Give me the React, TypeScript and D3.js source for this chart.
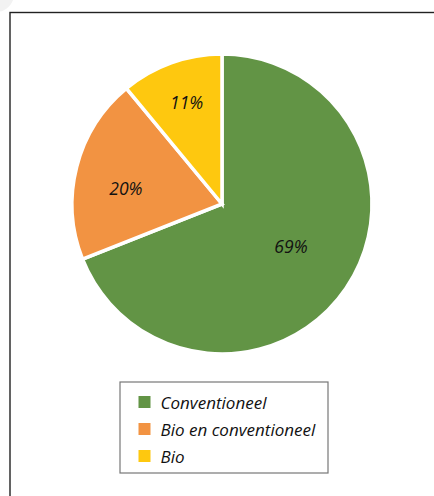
import React from "react";
import * as d3 from "d3";

const categories = ["Conventioneel", "Bio en conventioneel", "Bio"];
const values = [69, 20, 11];
const labels = ["69%", "20%", "11%"];
const colors = ["#629445", "#F29342", "#FEC80F"];

export default function App() {
  const W = 434, H = 496;
  const cx = 222, cy = 204, r = 150;
  const pie = d3.pie<number>().sort(null).value((d) => d)(values);
  const arc = d3.arc<d3.PieArcDatum<number>>().innerRadius(0).outerRadius(r);
  const labelFrac = [0.54, 0.65, 0.72];
  const labelPos: [number, number][] = pie.map((p, i) => {
    const a = (p.startAngle + p.endAngle) / 2 + [-0.045, -0.085, 0.012][i];
    return [Math.sin(a) * r * labelFrac[i], -Math.cos(a) * r * labelFrac[i]];
  });
  const font = "'Open Sans', sans-serif";
  const legendX = 120, legendY = 382, legendW = 208, legendH = 91;
  const rowY = d3.scalePoint<string>().domain(categories).range([402, 456]);
  return (
    <svg width={W} height={H} style={{ position: "absolute", left: 0, top: 0 }}>
      <rect width={W} height={H} fill="#fff" />
      <circle cx={-4} cy={-6} r={18} fill="#f2f2f2" />
      <rect x={10} y={12.5} width={W + 10} height={H + 10} fill="none" stroke="#222" strokeWidth={1.4} />
      <g transform={`translate(${cx},${cy})`}>
        {pie.map((p, i) => (
          <path key={i} d={arc(p) || ""} fill={colors[i]} stroke="#fff" strokeWidth={3.5} strokeLinejoin="miter" />
        ))}
        {pie.map((p, i) => (
          <text key={"l" + i} x={labelPos[i][0]} y={labelPos[i][1]} textAnchor="middle" dominantBaseline="central"
            fontFamily={font} fontStyle="italic" fontSize={17.5} fill="#111">
            {labels[i]}
          </text>
        ))}
      </g>
      <rect x={legendX} y={legendY} width={legendW} height={legendH} fill="#fff" stroke="#777" strokeWidth={1.2} />
      {categories.map((c, i) => (
        <g key={c}>
          <rect x={138.5} y={(rowY(c) as number) - 6} width={12} height={12} fill={colors[i]} />
          <text x={160.5} y={rowY(c) as number} dominantBaseline="central" fontFamily={font} fontStyle="italic"
            fontSize={17} fill="#111">
            {c}
          </text>
        </g>
      ))}
    </svg>
  );
}
